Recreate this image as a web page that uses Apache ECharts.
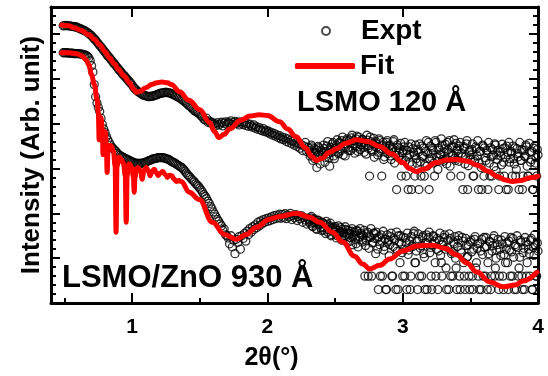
<!DOCTYPE html>
<html>
<head>
<meta charset="utf-8">
<script src="https://cdn.jsdelivr.net/npm/echarts@6/dist/echarts.min.js"></script>
<style>
  html, body { margin: 0; padding: 0; background: #fff; }
  #chart { width: 548px; height: 376px; }
</style>
</head>
<body>
<div id="chart"></div>
<script>
// X-ray reflectivity of LSMO 120 Å and LSMO/ZnO 930 Å films,
// plotted on a logarithmic intensity scale (values below are log10 of intensity).
// Main scans: first angle, step, and log10(intensity) for every step.
const scanStart = 0.49;
const scanStep = 0.01;

const exptTopLog = [
  6.18, 6.18,
  6.19, 6.18, 6.18, 6.18, 6.17, 6.17, 6.16, 6.16, 6.15, 6.14,
  6.12, 6.11, 6.10, 6.08, 6.07, 6.05, 6.03, 6.01, 5.98, 5.96,
  5.92, 5.89, 5.86, 5.82, 5.78, 5.74, 5.71, 5.67, 5.63, 5.59,
  5.55, 5.51, 5.48, 5.44, 5.40, 5.36, 5.33, 5.29, 5.25, 5.21,
  5.18, 5.14, 5.10, 5.07, 5.04, 5.00, 4.97, 4.93, 4.90, 4.86,
  4.81, 4.78, 4.75, 4.72, 4.70, 4.68, 4.66, 4.64, 4.63, 4.62,
  4.61, 4.60, 4.60, 4.61, 4.61, 4.62, 4.63, 4.64, 4.65, 4.67,
  4.68, 4.68, 4.69, 4.69, 4.70, 4.69, 4.69, 4.68, 4.67, 4.65,
  4.64, 4.62, 4.61, 4.59, 4.58, 4.55, 4.53, 4.51, 4.48, 4.46,
  4.43, 4.40, 4.38, 4.35, 4.32, 4.29, 4.27, 4.25, 4.23, 4.21,
  4.17, 4.15, 4.10, 4.08, 4.12, 4.03, 4.06, 4.01, 4.03, 3.99,
  4.00, 3.96, 4.02, 3.97, 3.99, 4.03, 3.95, 4.01, 4.04, 3.98,
  4.03, 4.00, 4.06, 3.98, 4.02, 4.05, 4.00, 4.03, 3.97, 4.04,
  4.01, 3.98, 4.03, 3.96, 4.00, 3.94, 3.99, 3.95, 3.92, 3.97,
  3.90, 3.93, 3.87, 3.91, 3.86, 3.84, 3.89, 3.82, 3.85, 3.80,
  3.83, 3.77, 3.80, 3.74, 3.78, 3.72, 3.75, 3.69, 3.73, 3.66,
  3.70, 3.64, 3.68, 3.60, 3.66, 3.58, 3.63, 3.55, 3.61, 3.52,
  3.57, 3.49, 3.56, 3.45, 3.53, 3.40, 3.50, 3.58, 3.38, 3.47,
  3.44, 3.32, 3.48, 3.36, 3.22, 3.42, 3.30, 3.46, 3.10, 3.38,
  3.34, 3.44, 3.25, 3.50, 3.33, 3.05, 3.41, 3.55, 3.28, 3.46,
  3.52, 3.36, 3.58, 3.44, 3.62, 3.30, 3.55, 3.48, 3.66, 3.40,
  3.57, 3.68, 3.45, 3.62, 3.50, 3.72, 3.38, 3.60, 3.53, 3.65,
  3.47, 3.58, 3.32, 3.63, 3.51, 3.70, 3.42, 3.55, 3.25, 3.60,
  3.48, 3.36, 3.62, 3.40, 3.53, 3.20, 3.46, 3.58, 3.33, 3.50,
  3.28, 3.45, 3.60, 3.12, 3.38, 3.52, 3.24, 3.44, 2.83, 3.35,
  3.48, 3.18, 3.40, 2.53, 3.30, 3.55, 3.08, 3.36, 2.83, 3.22,
  3.42, 2.53, 3.15, 3.50, 3.27, 2.83, 3.38, 3.05, 3.58, 3.20,
  3.33, 3.46, 3.12, 3.62, 3.25, 2.98, 3.41, 3.30, 3.52, 3.16,
  3.44, 3.22, 3.58, 3.35, 3.05, 3.48, 3.28, 3.64, 3.18, 3.40,
  3.32, 3.50, 2.83, 3.26, 3.45, 3.10, 3.55, 2.53, 3.36, 3.20,
  3.42, 2.83, 3.15, 3.48, 3.28, 2.53, 3.38, 3.02, 3.52, 2.83,
  3.24, 3.40, 2.53, 3.12, 3.46, 2.83, 3.30, 3.55, 2.95, 3.20,
  2.53, 3.36, 3.08, 3.44, 2.83, 3.25, 3.50, 2.53, 3.14, 3.38,
  2.83, 3.22, 3.46, 2.98, 3.33, 2.53, 3.18, 3.42, 2.83, 3.28,
  3.52, 3.05, 2.83, 3.36, 3.20, 2.53, 3.45, 3.12, 2.83, 3.30
];

const exptBottomLog = [
  5.58, 5.58,
  5.58, 5.58, 5.57, 5.57, 5.57, 5.57, 5.56, 5.56, 5.56, 5.56,
  5.56, 5.55, 5.55, 5.54, 5.53, 5.52, 5.50, 5.47, 5.40, 5.29,
  5.15, 4.87, 4.60, 4.46, 4.36, 4.27, 4.12, 3.98, 3.88, 3.80,
  3.71, 3.64, 3.58, 3.52, 3.47, 3.44, 3.41, 3.38, 3.34, 3.31,
  3.29, 3.27, 3.25, 3.24, 3.22, 3.21, 3.19, 3.18, 3.16, 3.15,
  3.13, 3.12, 3.12, 3.11, 3.11, 3.11, 3.12, 3.12, 3.13, 3.14,
  3.15, 3.17, 3.18, 3.19, 3.21, 3.22, 3.22, 3.23, 3.24, 3.24,
  3.24, 3.24, 3.24, 3.23, 3.22, 3.21, 3.20, 3.18, 3.16, 3.14,
  3.13, 3.11, 3.09, 3.07, 3.05, 3.03, 3.01, 2.98, 2.94, 2.90,
  2.86, 2.83, 2.80, 2.76, 2.73, 2.70, 2.66, 2.63, 2.60, 2.56,
  2.52, 2.47, 2.42, 2.38, 2.33, 2.27, 2.22, 2.15, 2.10, 2.03,
  1.98, 1.92, 1.86, 1.82, 1.76, 1.72, 1.62, 1.65, 1.52, 1.50,
  1.45, 1.32, 1.50, 1.25, 1.40, 1.10, 1.42, 1.35, 1.48, 1.20,
  1.50, 1.44, 1.55, 1.38, 1.60, 1.52, 1.66, 1.58, 1.70, 1.64,
  1.74, 1.68, 1.80, 1.72, 1.83, 1.76, 1.86, 1.80, 1.88, 1.82,
  1.90, 1.84, 1.92, 1.86, 1.95, 1.88, 1.96, 1.90, 1.98, 1.89,
  1.97, 1.91, 1.99, 1.88, 1.96, 1.92, 2.00, 1.86, 1.95, 1.90,
  1.97, 1.84, 1.93, 1.88, 1.95, 1.80, 1.91, 1.85, 1.76, 1.89,
  1.82, 1.90, 1.72, 1.86, 1.78, 1.66, 1.84, 1.74, 1.80, 1.62,
  1.78, 1.68, 1.55, 1.76, 1.64, 1.72, 1.50, 1.66, 1.58, 1.70,
  1.45, 1.62, 1.55, 1.68, 1.40, 1.58, 1.50, 1.64, 1.35, 1.56,
  1.46, 1.60, 1.30, 1.52, 1.42, 1.62, 1.25, 1.48, 1.56, 1.36,
  1.50, 0.60, 1.40, 1.58, 1.22, 1.46, 0.60, 1.35, 1.55, 1.10,
  1.44, 0.30, 1.30, 1.52, 0.60, 1.18, 1.42, 0.30, 1.36, 1.05,
  1.48, 0.60, 1.26, 1.40, 0.30, 1.15, 1.50, 0.90, 1.32, 0.60,
  1.20, 1.45, 0.30, 1.08, 1.38, 0.60, 1.28, 1.55, 0.90, 1.16,
  0.30, 1.42, 1.22, 0.60, 1.50, 1.02, 1.34, 0.30, 1.46, 1.12,
  0.60, 1.30, 1.48, 0.90, 1.20, 0.30, 1.40, 1.06, 0.60, 1.36,
  1.52, 0.78, 1.24, 0.30, 1.44, 1.10, 0.60, 1.32, 1.00, 0.30,
  1.40, 0.60, 1.18, 1.46, 0.90, 0.30, 1.28, 1.04, 0.60, 1.36,
  1.14, 0.30, 1.42, 0.78, 1.22, 0.60, 1.34, 0.30, 1.08, 1.46,
  0.60, 1.26, 0.90, 1.38, 0.30, 1.16, 1.44, 0.60, 1.00, 1.30,
  0.30, 1.20, 1.40, 0.60, 1.08, 0.90, 1.34, 0.30, 1.18, 1.46,
  0.60, 1.02, 1.30, 0.30, 1.24, 0.78, 1.40, 0.60, 1.12, 0.30,
  1.36, 0.90, 1.20, 0.60, 1.44, 0.30, 1.06, 1.28, 0.60, 1.16
];

// Interleaved readings at the half steps of the high-angle range
const halfScanStart = 2.305;

const exptTopHalfLog = [
  3.40, 3.28, 3.52, 3.18, 3.44, 3.35, 3.02, 3.49, 3.26, 3.41,
  3.30, 3.52, 3.14, 3.38, 3.60, 3.24, 3.47, 3.36, 3.58, 3.22,
  3.45, 3.64, 3.33, 3.56, 3.40, 3.70, 3.50, 3.28, 3.62, 3.46,
  3.63, 3.40, 3.74, 3.55, 3.34, 3.66, 3.48, 3.70, 3.42, 3.58,
  3.64, 3.36, 3.52, 3.74, 3.45, 2.83, 3.60, 3.38, 3.67, 3.49,
  3.55, 3.30, 3.66, 3.44, 2.83, 3.58, 3.26, 3.50, 3.62, 3.38,
  3.52, 3.20, 3.42, 3.64, 3.30, 2.53, 3.47, 3.35, 3.56, 3.18,
  3.40, 3.58, 2.83, 3.26, 3.48, 3.14, 2.53, 3.44, 3.30, 3.52,
  3.12, 3.36, 3.55, 2.83, 3.28, 3.46, 3.08, 3.62, 3.34, 2.53,
  3.50, 3.24, 3.40, 2.83, 3.58, 3.16, 3.45, 3.32, 3.66, 3.20,
  3.36, 3.54, 3.10, 3.42, 3.62, 2.83, 3.30, 3.50, 3.22, 3.56,
  3.44, 3.16, 3.58, 3.34, 2.53, 3.48, 3.26, 3.62, 3.06, 3.40,
  3.30, 3.55, 2.83, 3.20, 3.44, 3.62, 3.12, 3.38, 2.53, 3.50,
  3.46, 3.18, 3.34, 3.58, 2.83, 3.26, 3.42, 3.04, 3.52, 3.30,
  3.40, 2.83, 3.28, 3.54, 3.14, 3.46, 2.53, 3.36, 3.58, 3.22,
  3.34, 3.50, 3.10, 2.83, 3.44, 3.26, 3.58, 3.18, 2.53, 3.40,
  3.26, 3.48, 2.83, 3.56, 3.14, 3.38, 2.53, 3.50, 3.24, 3.42
];

const exptBottomHalfLog = [
  1.86, 1.78, 1.93, 1.70, 1.88, 1.80, 1.64, 1.85, 1.76, 1.68,
  1.80, 1.62, 1.74, 1.82, 1.58, 1.70, 1.78, 1.52, 1.68, 1.60,
  1.66, 1.50, 1.72, 1.58, 1.44, 1.64, 1.56, 1.70, 1.48, 1.62,
  1.54, 1.38, 1.66, 1.50, 1.58, 1.32, 1.60, 1.45, 1.66, 1.52,
  1.40, 1.62, 1.28, 1.54, 0.60, 1.48, 1.66, 1.34, 1.56, 1.44,
  1.58, 1.20, 1.48, 0.60, 1.38, 1.60, 1.26, 0.30, 1.52, 1.40,
  1.30, 1.56, 0.60, 1.44, 1.22, 1.58, 0.30, 1.36, 1.50, 1.12,
  1.46, 0.60, 1.34, 1.56, 1.18, 0.30, 1.48, 1.26, 1.60, 0.90,
  1.38, 1.54, 0.60, 1.28, 1.46, 1.10, 0.30, 1.52, 1.32, 1.58,
  1.24, 0.30, 1.50, 1.38, 0.60, 1.44, 1.16, 1.56, 0.90, 1.30,
  1.46, 1.20, 0.30, 1.40, 1.54, 0.60, 1.14, 1.36, 1.48, 0.78,
  1.26, 1.50, 0.30, 1.12, 1.38, 0.60, 1.44, 1.02, 1.30, 0.30,
  1.40, 0.60, 1.20, 1.48, 0.90, 1.32, 0.30, 1.16, 1.42, 0.60,
  1.24, 1.46, 0.30, 1.10, 1.36, 0.60, 1.28, 1.50, 0.78, 1.18,
  1.42, 0.60, 1.06, 1.32, 0.30, 1.48, 1.20, 0.90, 1.38, 0.60,
  1.14, 1.44, 0.30, 1.26, 1.50, 0.60, 1.02, 1.36, 0.30, 1.22,
  1.46, 0.60, 1.30, 1.10, 1.40, 0.30, 1.24, 1.52, 0.60, 1.34
];

// Model curves: [2θ (deg), log10(intensity)]
const fitTopLog = [
  [0.48, 6.20], [0.53, 6.18], [0.57, 6.14], [0.62, 6.08], [0.68, 5.98], [0.72, 5.88],
  [0.76, 5.76], [0.80, 5.60], [0.83, 5.47], [0.87, 5.33], [0.90, 5.20], [0.94, 5.06],
  [0.98, 4.91], [1.01, 4.77], [1.03, 4.70], [1.06, 4.72], [1.10, 4.80], [1.15, 4.88],
  [1.18, 4.91], [1.22, 4.93], [1.26, 4.91], [1.29, 4.87], [1.35, 4.71], [1.42, 4.52],
  [1.50, 4.31], [1.57, 4.03], [1.61, 3.82], [1.64, 3.69], [1.68, 3.76], [1.72, 3.88],
  [1.80, 4.07], [1.87, 4.17], [1.94, 4.20], [2.00, 4.18], [2.09, 4.04], [2.15, 3.88],
  [2.21, 3.71], [2.28, 3.46], [2.33, 3.26], [2.36, 3.18], [2.40, 3.22], [2.46, 3.36],
  [2.51, 3.44], [2.58, 3.56], [2.66, 3.64], [2.74, 3.60], [2.83, 3.49], [2.92, 3.32],
  [3.00, 3.13], [3.05, 3.00], [3.10, 2.93], [3.15, 2.98], [3.25, 3.13], [3.32, 3.19],
  [3.40, 3.20], [3.48, 3.16], [3.55, 3.07], [3.63, 2.94], [3.70, 2.82], [3.76, 2.74],
  [3.81, 2.71], [3.87, 2.73], [3.94, 2.79], [4.00, 2.83]
];

const fitBottomLog = [
  [0.48, 5.58], [0.53, 5.58], [0.59, 5.56], [0.63, 5.51], [0.66, 5.42], [0.68, 5.31],
  [0.70, 5.09], [0.72, 4.87], [0.741, 4.53], [0.750, 4.25], [0.756, 3.64], [0.762, 4.05],
  [0.770, 4.13], [0.779, 3.85], [0.785, 3.31], [0.791, 3.72], [0.800, 3.82], [0.809, 3.55],
  [0.815, 2.91], [0.822, 3.45], [0.836, 3.52], [0.848, 3.49], [0.862, 3.38], [0.874, 3.05],
  [0.881, 1.58], [0.888, 3.05], [0.902, 3.25], [0.919, 3.20], [0.935, 3.12], [0.949, 2.85],
  [0.956, 1.80], [0.963, 2.85], [0.975, 3.10], [0.985, 3.09], [1.000, 3.00], [1.009, 2.80],
  [1.015, 2.47], [1.021, 2.80], [1.032, 3.00], [1.044, 3.02], [1.062, 2.95], [1.074, 2.76],
  [1.086, 2.95], [1.104, 3.02], [1.120, 2.94], [1.133, 2.84], [1.146, 2.94], [1.163, 2.98],
  [1.180, 2.90], [1.193, 2.84], [1.208, 2.90], [1.226, 2.93], [1.245, 2.86], [1.260, 2.80],
  [1.277, 2.85], [1.293, 2.84], [1.310, 2.76], [1.326, 2.71], [1.345, 2.73], [1.363, 2.71],
  [1.422, 2.47], [1.496, 2.31], [1.593, 1.80], [1.681, 1.53], [1.770, 1.42], [1.844, 1.53],
  [1.919, 1.69], [2.015, 1.87], [2.089, 1.93], [2.215, 2.00], [2.311, 1.91], [2.385, 1.80],
  [2.481, 1.58], [2.556, 1.36], [2.644, 1.04], [2.704, 0.87], [2.756, 0.76], [2.830, 0.84],
  [2.904, 0.98], [3.000, 1.16], [3.104, 1.27], [3.222, 1.29], [3.311, 1.22], [3.400, 1.07],
  [3.474, 0.89], [3.548, 0.69], [3.644, 0.47], [3.741, 0.36], [3.830, 0.40], [3.889, 0.49],
  [3.993, 0.69]
];

const xMajorTicks = [1, 2, 3, 4];
const xTopTicks = [1, 2, 3];
const xMinorTicks = [0.5, 1.5, 2.5, 3.5];

const sampleLabels = ['LSMO 120 Å', 'LSMO/ZnO 930 Å'];

// intensity axis in log10 units: one major tick per decade
const logMin = 0, logMax = 6.6, decade = 1;

function scanToPoints(start, logs) {
  return logs.map((v, i) => [+(start + i * scanStep).toFixed(3), v]);
}

const FONT = '"Liberation Sans", Arial, sans-serif';
const chart = echarts.init(document.getElementById('chart'), null, { renderer: 'canvas' });

const gridRect = { left: 51, right: 10, top: 7, bottom: 72 };

function intensityAxis(extra) {
  return Object.assign({
    type: 'value', min: logMin, max: logMax, interval: decade,
    axisLine: { show: true, onZero: false, lineStyle: { color: '#000', width: 3 } },
    axisTick: { show: true, inside: true, length: 9, lineStyle: { color: '#000', width: 2 } },
    minorTick: { show: true, splitNumber: 5, length: 5, lineStyle: { color: '#000', width: 2 } },
    axisLabel: { show: false },
    splitLine: { show: false },
    minorSplitLine: { show: false }
  }, extra);
}

const scatterStyle = {
  type: 'scatter',
  symbol: 'circle',
  symbolSize: 8,
  itemStyle: { color: 'rgba(255,255,255,0)', borderColor: '#000', borderWidth: 1.3 },
  xAxisIndex: 0,
  yAxisIndex: 0,
  z: 2
};

const fitStyle = {
  type: 'line',
  symbol: 'none',
  smooth: 0.4,
  smoothMonotone: 'x',
  lineStyle: { color: '#ff0000', width: 5, cap: 'round', join: 'round' },
  itemStyle: { color: '#ff0000' },
  xAxisIndex: 0,
  yAxisIndex: 0,
  z: 3
};

const legendText = { fontFamily: FONT, fontWeight: 'bold', fontSize: 28, color: '#000' };

chart.setOption({
  animation: false,
  backgroundColor: '#fff',
  grid: [
    Object.assign({}, gridRect),
    Object.assign({}, gridRect)
  ],
  legend: [
    {
      data: [{ name: 'Expt', icon: 'emptyCircle' }], left: 321, top: 17, padding: 0,
      itemWidth: 60, itemHeight: 8, itemGap: 0, selectedMode: false,
      itemStyle: { color: '#1a1a1a', borderColor: '#1a1a1a', borderWidth: 1 },
      textStyle: legendText
    },
    {
      data: [{ name: 'Fit', icon: 'roundRect' }], left: 295, top: 52, padding: 0,
      itemWidth: 60, itemHeight: 6, itemGap: 0, selectedMode: false,
      itemStyle: { color: '#ff0000', borderWidth: 0 },
      textStyle: legendText
    }
  ],
  xAxis: [
    {
      type: 'value', gridIndex: 0, position: 'bottom', min: 0.4, max: 4,
      axisLine: { onZero: false, lineStyle: { color: '#000', width: 3 } },
      axisTick: { inside: true, length: 10, customValues: xMajorTicks, lineStyle: { color: '#000', width: 2 } },
      axisLabel: { customValues: xMajorTicks, fontFamily: FONT, fontWeight: 'bold', fontSize: 21, color: '#000', margin: 14 },
      splitLine: { show: false },
      name: '2θ(°)', nameLocation: 'middle', nameGap: 43,
      nameTextStyle: { fontFamily: FONT, fontWeight: 'bold', fontSize: 25, color: '#000', padding: [0, 46, 0, 0] }
    },
    {
      type: 'value', gridIndex: 0, position: 'top', min: 0.4, max: 4,
      axisLine: { onZero: false, lineStyle: { color: '#000', width: 3 } },
      axisTick: { inside: true, length: 10, customValues: xTopTicks, lineStyle: { color: '#000', width: 2 } },
      axisLabel: { show: false },
      splitLine: { show: false }
    },
    {
      type: 'value', gridIndex: 1, position: 'bottom', min: 0.4, max: 4,
      axisLine: { show: false, onZero: false },
      axisTick: { inside: true, length: 6, customValues: xMinorTicks, lineStyle: { color: '#000', width: 2 } },
      axisLabel: { show: false },
      splitLine: { show: false }
    }
  ],
  yAxis: [
    intensityAxis({
      gridIndex: 0, position: 'left',
      name: 'Intensity (Arb. unit)', nameLocation: 'middle', nameGap: 6,
      nameTextStyle: { fontFamily: FONT, fontWeight: 'bold', fontSize: 26, color: '#000' }
    }),
    intensityAxis({ gridIndex: 0, position: 'right' }),
    { type: 'value', gridIndex: 1, min: logMin, max: logMax, show: false }
  ],
  graphic: [
    {
      type: 'text', left: 297, top: 88, silent: true,
      style: { text: sampleLabels[0], fontFamily: FONT, fontWeight: 'bold', fontSize: 29, fill: '#000' }
    },
    {
      type: 'text', left: 62, top: 263, silent: true,
      style: { text: sampleLabels[1], fontFamily: FONT, fontWeight: 'bold', fontSize: 31, fill: '#000' }
    }
  ],
  series: [
    Object.assign({ name: 'Expt', data: scanToPoints(scanStart, exptTopLog).concat(scanToPoints(halfScanStart, exptTopHalfLog)) }, scatterStyle),
    Object.assign({ name: 'Expt', data: scanToPoints(scanStart, exptBottomLog).concat(scanToPoints(halfScanStart, exptBottomHalfLog)) }, scatterStyle),
    Object.assign({ name: 'Fit', data: fitTopLog }, fitStyle),
    Object.assign({ name: 'Fit', data: fitBottomLog }, fitStyle)
  ]
});
</script>
</body>
</html>
